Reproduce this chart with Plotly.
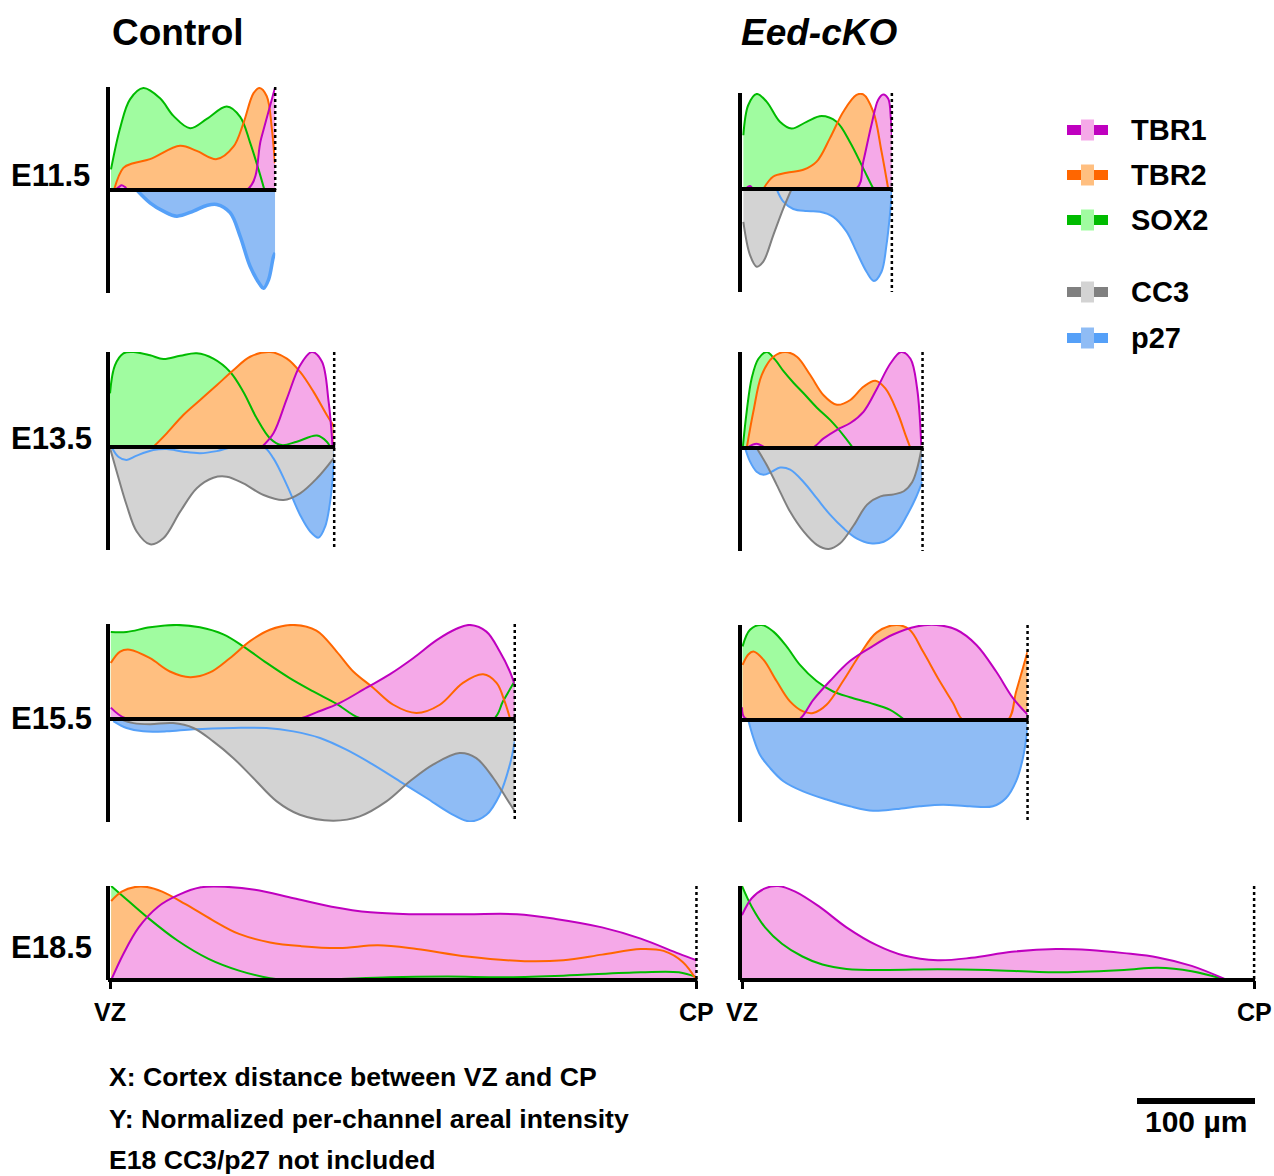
import plotly.graph_objects as go

W, H = 1274, 1176

# ---------------- DATA ----------------
# x: position along the cortex, % of the VZ -> CP distance
# y: normalized per-channel areal intensity (negative side: CC3 / p27)

# cortex thickness (µm) per age, Control and Eed-cKO
control_len_um = [140, 190, 343, 497]
cko_len_um = [127, 153, 242, 434]
ages = ["E11.5", "E13.5", "E15.5", "E18.5"]

# ---- Control E11.5
c11_sox2_x = [0.6, 6.1, 12.1, 20.2, 30.3, 38.4, 48.5, 58.6, 70.7, 78.8, 84.8, 89.9, 93.5]
c11_sox2_y = [0.20, 0.60, 0.88, 0.99, 0.89, 0.72, 0.60, 0.69, 0.81, 0.71, 0.46, 0.20, 0.0]
c11_tbr2_x = [2.4, 8.1, 14.1, 24.2, 42.4, 52.5, 64.6, 74.7, 80.8, 86.9, 90.5, 94.9, 98.0, 99.8]
c11_tbr2_y = [0.0, 0.215, 0.26, 0.30, 0.43, 0.38, 0.30, 0.42, 0.65, 0.94, 0.99, 0.91, 0.59, 0.26]
c11_tbr1_x = [3.0, 5.5, 7.0, 9.0, 11.0, 82.8, 91.5, 100.0]
c11_tbr1_y = [0.0, 0.03, 0.045, 0.03, 0.0, 0.0, 0.5, 1.0]
c11_p27_x = [16.2, 24.2, 32.3, 40.4, 50.5, 58.6, 64.6, 72.7, 78.8, 84.8, 90.9, 92.9, 96.0, 99.0, 100.0]
c11_p27_y = [0.0, -0.124, -0.205, -0.254, -0.205, -0.15, -0.14, -0.22, -0.45, -0.74, -0.92, -0.955, -0.87, -0.645, -0.61]

# ---- Eed-cKO E11.5
k11_sox2_x = [0.9, 4.2, 9.8, 16.4, 25.3, 33.1, 43.1, 53.1, 63.1, 72.0, 80.9, 87.1, 88.0]
k11_sox2_y = [0.56, 0.875, 0.99, 0.91, 0.70, 0.63, 0.70, 0.76, 0.70, 0.49, 0.215, 0.02, 0.0]
k11_tbr2_x = [14.2, 20.9, 29.8, 40.9, 49.8, 58.7, 67.6, 76.4, 80.9, 87.6, 93.1, 97.6]
k11_tbr2_y = [0.0, 0.13, 0.17, 0.20, 0.285, 0.53, 0.805, 0.98, 0.985, 0.805, 0.39, 0.0]
k11_tbr1_x = [2.5, 5.3, 8.0, 76.0, 80.9, 86.4, 90.9, 94.2, 97.6, 99.3, 100.0]
k11_tbr1_y = [0.0, 0.03, 0.0, 0.0, 0.285, 0.67, 0.93, 0.985, 0.94, 0.74, 0.56]
k11_cc3_x = [0.9, 5.3, 9.8, 14.2, 20.9, 27.6, 33.1]
k11_cc3_y = [-0.32, -0.64, -0.754, -0.705, -0.447, -0.188, 0.0]
k11_p27_x = [23.1, 27.6, 34.2, 43.1, 52.0, 60.9, 69.8, 76.4, 83.1, 88.0, 93.1, 96.4, 98.7, 100.0]
k11_p27_y = [0.0, -0.123, -0.194, -0.214, -0.22, -0.27, -0.414, -0.608, -0.803, -0.893, -0.803, -0.544, -0.252, -0.026]

# ---- Control E13.5
c13_sox2_x = [0.0, 2.2, 6.0, 10.4, 17.9, 23.8, 31.3, 38.7, 46.1, 53.6, 59.5, 65.5, 71.4, 76.6, 83.3, 92.3, 96.7, 98.2]
c13_sox2_y = [0.565, 0.86, 0.986, 1.0, 0.965, 0.926, 0.96, 0.986, 0.93, 0.79, 0.58, 0.30, 0.09, 0.02, 0.056, 0.12, 0.056, 0.0]
c13_tbr2_x = [19.3, 25.3, 32.7, 40.2, 47.6, 55.1, 62.5, 71.4, 78.9, 84.8, 90.8, 96.7, 100.0]
c13_tbr2_y = [0.0, 0.144, 0.337, 0.495, 0.65, 0.81, 0.95, 1.0, 0.93, 0.79, 0.58, 0.337, 0.214]
c13_tbr1_x = [67.7, 72.9, 78.9, 84.8, 90.0, 94.5, 97.5, 99.3]
c13_tbr1_y = [0.0, 0.144, 0.51, 0.86, 1.0, 0.9, 0.48, 0.0]
c13_cc3_x = [0.0, 3.0, 7.4, 11.9, 17.9, 23.8, 31.3, 38.7, 46.1, 52.1, 59.5, 68.5, 77.4, 84.8, 92.3, 99.7]
c13_cc3_y = [-0.01, -0.24, -0.563, -0.82, -0.945, -0.887, -0.628, -0.40, -0.298, -0.288, -0.353, -0.466, -0.515, -0.45, -0.304, -0.11]
c13_p27_x = [0.7, 3.7, 7.4, 11.9, 19.3, 25.3, 32.7, 40.2, 47.6, 55.1, 68.5, 72.9, 78.9, 84.8, 89.3, 93.0, 96.0, 98.2, 100.0]
c13_p27_y = [0.0, -0.094, -0.126, -0.084, -0.03, -0.02, -0.045, -0.06, -0.04, 0.0, 0.0, -0.11, -0.37, -0.66, -0.82, -0.88, -0.77, -0.53, -0.12]

# ---- Eed-cKO E13.5
k13_sox2_x = [0.4, 2.6, 5.4, 9.1, 13.7, 18.3, 23.0, 28.5, 34.1, 41.5, 48.9, 56.3, 61.5]
k13_sox2_y = [0.0, 0.38, 0.73, 0.93, 1.0, 0.92, 0.80, 0.68, 0.57, 0.42, 0.29, 0.13, 0.0]
k13_tbr2_x = [2.6, 6.3, 10.9, 17.4, 23.9, 30.4, 37.8, 45.2, 52.6, 60.0, 67.4, 73.9, 79.4, 85.9, 90.6, 93.3]
k13_tbr2_y = [0.0, 0.38, 0.76, 0.95, 1.0, 0.95, 0.76, 0.55, 0.45, 0.5, 0.64, 0.70, 0.62, 0.38, 0.135, 0.0]
k13_tbr1_x = [2.6, 8.1, 13.7, 26.7, 38.7, 45.2, 52.6, 60.0, 67.4, 74.8, 82.2, 88.1, 93.3, 97.0, 99.3]
k13_tbr1_y = [0.0, 0.045, 0.0, 0.0, 0.0, 0.1, 0.19, 0.26, 0.38, 0.62, 0.88, 1.0, 0.93, 0.62, 0.03]
k13_cc3_x = [8.1, 13.7, 19.3, 26.7, 34.1, 41.5, 48.0, 54.4, 61.9, 69.3, 76.7, 84.1, 89.6, 94.3, 97.0, 99.3]
k13_cc3_y = [0.0, -0.165, -0.36, -0.62, -0.81, -0.94, -0.98, -0.925, -0.75, -0.55, -0.47, -0.45, -0.42, -0.33, -0.2, -0.02]
k13_p27_x = [1.7, 4.4, 8.1, 11.9, 16.5, 21.1, 26.7, 34.1, 41.5, 48.9, 56.3, 63.7, 71.1, 78.5, 85.9, 91.5, 96.1, 99.8]
k13_p27_y = [0.0, -0.13, -0.23, -0.26, -0.23, -0.19, -0.21, -0.33, -0.49, -0.65, -0.78, -0.88, -0.925, -0.91, -0.81, -0.65, -0.49, -0.33]

# ---- Control E15.5
c15_sox2_x = [0.2, 4.1, 9.9, 16.5, 22.2, 28.0, 32.9, 38.7, 44.4, 50.2, 56.0, 61.7, 70.0, 80.0, 94.7, 97.1, 100.0]
c15_sox2_y = [0.916, 0.916, 0.965, 0.99, 0.965, 0.89, 0.765, 0.59, 0.43, 0.29, 0.16, 0.01, 0.0, 0.0, 0.0, 0.186, 0.40]
c15_tbr2_x = [0.2, 2.5, 4.9, 9.9, 14.8, 19.8, 24.7, 29.6, 34.6, 39.5, 45.3, 51.0, 56.0, 60.1, 65.0, 70.0, 75.7, 81.5, 87.2, 92.2, 95.5, 97.5, 98.8]
c15_tbr2_y = [0.59, 0.71, 0.73, 0.64, 0.50, 0.44, 0.49, 0.64, 0.82, 0.94, 0.99, 0.93, 0.71, 0.50, 0.33, 0.15, 0.063, 0.15, 0.38, 0.47, 0.38, 0.186, 0.01]
c15_tbr1_x = [0.2, 3.7, 10.0, 22.2, 46.5, 51.0, 56.8, 63.4, 69.1, 74.9, 80.7, 85.6, 88.9, 93.0, 96.3, 98.8, 100.0]
c15_tbr1_y = [0.12, 0.01, 0.0, 0.0, 0.0, 0.07, 0.17, 0.33, 0.47, 0.64, 0.83, 0.95, 0.99, 0.92, 0.71, 0.50, 0.36]
c15_cc3_x = [2.5, 5.8, 9.9, 15.6, 20.6, 25.5, 30.5, 35.4, 41.2, 46.9, 55.1, 61.7, 68.3, 74.1, 79.8, 86.4, 90.5, 94.7, 97.9, 100.0]
c15_cc3_y = [0.0, -0.04, -0.05, -0.04, -0.087, -0.217, -0.38, -0.573, -0.80, -0.93, -0.987, -0.945, -0.80, -0.605, -0.443, -0.33, -0.38, -0.573, -0.767, -0.896]
c15_p27_x = [0.8, 4.1, 8.2, 14.0, 20.6, 30.5, 38.7, 45.3, 51.9, 58.4, 65.0, 71.6, 78.2, 84.0, 88.9, 93.0, 96.3, 98.8, 100.0]
c15_p27_y = [-0.02, -0.087, -0.12, -0.12, -0.10, -0.087, -0.087, -0.12, -0.184, -0.298, -0.443, -0.605, -0.767, -0.913, -0.994, -0.93, -0.735, -0.443, -0.217]

# ---- Eed-cKO E15.5
k15_sox2_x = [0.2, 2.8, 6.9, 11.0, 15.6, 20.3, 26.1, 31.9, 37.8, 44.8, 51.7, 57.0]
k15_sox2_y = [0.775, 0.95, 1.0, 0.93, 0.775, 0.58, 0.41, 0.30, 0.24, 0.18, 0.11, 0.0]
k15_tbr2_x = [0.2, 2.2, 4.0, 7.5, 12.1, 16.8, 21.4, 24.9, 29.6, 35.4, 41.3, 47.1, 54.1, 58.7, 63.4, 69.2, 73.9, 77.4, 85.0, 93.1, 96.0, 98.4, 100.0]
k15_tbr2_y = [0.58, 0.69, 0.72, 0.635, 0.41, 0.196, 0.09, 0.074, 0.16, 0.41, 0.69, 0.92, 1.0, 0.95, 0.72, 0.41, 0.18, 0.0, 0.0, 0.0, 0.30, 0.55, 0.72]
k15_tbr1_x = [0.0, 1.0, 9.8, 19.7, 24.9, 30.8, 37.8, 44.8, 52.9, 61.1, 68.1, 75.1, 82.1, 89.0, 94.9, 100.0]
k15_tbr1_y = [0.133, 0.02, 0.0, 0.0, 0.21, 0.41, 0.62, 0.76, 0.90, 0.985, 1.0, 0.95, 0.79, 0.51, 0.23, 0.056]
k15_p27_x = [2.2, 4.0, 6.3, 9.8, 14.5, 21.4, 29.6, 37.8, 45.9, 54.1, 62.2, 70.4, 79.7, 87.9, 92.5, 96.0, 98.4, 100.0]
k15_p27_y = [0.0, -0.176, -0.34, -0.47, -0.60, -0.70, -0.78, -0.846, -0.89, -0.873, -0.846, -0.83, -0.846, -0.846, -0.765, -0.60, -0.37, -0.08]

# ---- Control E18.5
c18_sox2_x = [0.2, 2.3, 6.3, 11.5, 16.8, 22.0, 27.3, 32.6, 37.8, 47.7, 57.6, 67.4, 77.3, 90.5, 97.0, 100.0]
c18_sox2_y = [1.0, 0.886, 0.67, 0.42, 0.225, 0.10, 0.02, 0.0, 0.007, 0.03, 0.036, 0.03, 0.046, 0.082, 0.082, 0.03]
c18_tbr2_x = [0.2, 2.0, 4.3, 6.3, 8.9, 12.8, 17.4, 22.0, 27.3, 32.6, 39.1, 45.7, 52.3, 60.9, 70.7, 77.3, 83.9, 90.5, 94.4, 97.7, 100.0]
c18_tbr2_y = [0.84, 0.94, 0.99, 0.99, 0.94, 0.81, 0.64, 0.49, 0.40, 0.36, 0.34, 0.37, 0.33, 0.25, 0.20, 0.21, 0.27, 0.33, 0.31, 0.19, 0.0]
c18_tbr1_x = [0.2, 2.3, 4.9, 8.2, 11.5, 15.5, 20.1, 24.7, 31.3, 37.8, 44.4, 51.0, 60.9, 69.4, 76.0, 83.9, 90.5, 97.0, 100.0]
c18_tbr1_y = [0.0, 0.28, 0.56, 0.78, 0.90, 0.986, 0.99, 0.96, 0.87, 0.78, 0.72, 0.70, 0.70, 0.70, 0.65, 0.56, 0.44, 0.28, 0.21]

# ---- Eed-cKO E18.5
k18_sox2_x = [0.0, 1.9, 4.5, 7.8, 11.8, 15.7, 20.4, 28.3, 38.2, 48.1, 61.3, 74.6, 81.2, 87.8, 94.7]
k18_sox2_y = [1.0, 0.78, 0.56, 0.386, 0.25, 0.164, 0.118, 0.107, 0.114, 0.107, 0.082, 0.107, 0.13, 0.093, 0.0]
k18_tbr1_x = [0.0, 1.9, 4.5, 7.1, 10.4, 15.1, 20.4, 26.3, 31.6, 38.2, 44.8, 52.7, 61.3, 67.9, 74.6, 81.2, 87.8, 94.7]
k18_tbr1_y = [0.69, 0.87, 0.975, 1.0, 0.94, 0.78, 0.56, 0.37, 0.26, 0.21, 0.236, 0.30, 0.33, 0.32, 0.286, 0.24, 0.15, 0.0]

legend_names = ["TBR1", "TBR2", "SOX2", "CC3", "p27"]

# ---------------- STYLE ----------------
FONT = "Liberation Sans, Arial, Helvetica, sans-serif"
PX_PER_UM = 1.18
COLORS = {
    "TBR1": ("#bf00bf", "#f5a9e8"),
    "TBR2": ("#ff6600", "#ffbf80"),
    "SOX2": ("#00bb00", "#a0fca0"),
    "CC3": ("#808080", "#d3d3d3"),
    "p27": ("#55a0f8", "#8fbcf5"),
}

panels = [
    dict(x0=110, L=control_len_um[0], top=87, base=190, bottom=293, dot_full=False,
         pos=[("SOX2", c11_sox2_x, c11_sox2_y), ("TBR2", c11_tbr2_x, c11_tbr2_y), ("TBR1", c11_tbr1_x, c11_tbr1_y)],
         neg=[("p27", c11_p27_x, c11_p27_y)], lw={"p27": 3.5}),
    dict(x0=742, L=cko_len_um[0], top=93, base=189, bottom=292, dot_full=True,
         pos=[("SOX2", k11_sox2_x, k11_sox2_y), ("TBR2", k11_tbr2_x, k11_tbr2_y), ("TBR1", k11_tbr1_x, k11_tbr1_y)],
         neg=[("p27", k11_p27_x, k11_p27_y), ("CC3", k11_cc3_x, k11_cc3_y)], lw={}),
    dict(x0=110, L=control_len_um[1], top=352, base=447, bottom=550, dot_full=True,
         pos=[("SOX2", c13_sox2_x, c13_sox2_y), ("TBR2", c13_tbr2_x, c13_tbr2_y), ("TBR1", c13_tbr1_x, c13_tbr1_y)],
         neg=[("p27", c13_p27_x, c13_p27_y), ("CC3", c13_cc3_x, c13_cc3_y)], lw={}),
    dict(x0=742, L=cko_len_um[1], top=352, base=448, bottom=551, dot_full=True,
         pos=[("SOX2", k13_sox2_x, k13_sox2_y), ("TBR2", k13_tbr2_x, k13_tbr2_y), ("TBR1", k13_tbr1_x, k13_tbr1_y)],
         neg=[("p27", k13_p27_x, k13_p27_y), ("CC3", k13_cc3_x, k13_cc3_y)], lw={}),
    dict(x0=110, L=control_len_um[2], top=624, base=719, bottom=822, dot_full=True,
         pos=[("SOX2", c15_sox2_x, c15_sox2_y), ("TBR2", c15_tbr2_x, c15_tbr2_y), ("TBR1", c15_tbr1_x, c15_tbr1_y)],
         neg=[("p27", c15_p27_x, c15_p27_y), ("CC3", c15_cc3_x, c15_cc3_y)], lw={}),
    dict(x0=742, L=cko_len_um[2], top=625, base=720, bottom=822, dot_full=True,
         pos=[("SOX2", k15_sox2_x, k15_sox2_y), ("TBR2", k15_tbr2_x, k15_tbr2_y), ("TBR1", k15_tbr1_x, k15_tbr1_y)],
         neg=[("p27", k15_p27_x, k15_p27_y)], lw={}),
    dict(x0=110, L=control_len_um[3], top=886, base=980, bottom=None, dot_full=True,
         pos=[("SOX2", c18_sox2_x, c18_sox2_y), ("TBR2", c18_tbr2_x, c18_tbr2_y), ("TBR1", c18_tbr1_x, c18_tbr1_y)],
         neg=[], lw={}),
    dict(x0=742, L=cko_len_um[3], top=886, base=980, bottom=None, dot_full=True,
         pos=[("SOX2", k18_sox2_x, k18_sox2_y), ("TBR1", k18_tbr1_x, k18_tbr1_y)],
         neg=[], lw={}),
]


def px_x(v):
    return v / W


def px_y(v):
    return 1 - v / H


def akey(prefix, n):
    return f"{prefix}axis" if n == 1 else f"{prefix}axis{n}"


def aref(prefix, n):
    return prefix if n == 1 else f"{prefix}{n}"


fig = go.Figure()
layout_axes = {}
shapes = []
annotations = []
ycount = 0

for i, p in enumerate(panels):
    xn = i + 1
    x1 = p["x0"] + p["L"] * PX_PER_UM
    ycount += 1
    ypos = ycount
    yneg = None
    if p["bottom"] is not None:
        ycount += 1
        yneg = ycount
    bottom_row = p["bottom"] is None

    layout_axes[akey("x", xn)] = dict(
        domain=[px_x(p["x0"]), px_x(x1)], range=[0, 100], anchor=aref("y", ypos),
        showline=False, showgrid=False, zeroline=False,
        tickvals=[0, 100], ticks="outside" if bottom_row else "", ticklen=8, tickwidth=3,
        tickcolor="black", showticklabels=False, fixedrange=True)
    layout_axes[akey("y", ypos)] = dict(
        domain=[px_y(p["base"]), px_y(p["top"])], range=[0, 1], anchor=aref("x", xn),
        showline=True, linewidth=4, linecolor="black", showgrid=False, zeroline=False,
        showticklabels=False, ticks="", fixedrange=True)
    if yneg is not None:
        layout_axes[akey("y", yneg)] = dict(
            domain=[px_y(p["bottom"]), px_y(p["base"])], range=[-1, 0], anchor=aref("x", xn),
            showline=True, linewidth=4, linecolor="black", showgrid=False, zeroline=False,
            showticklabels=False, ticks="", fixedrange=True)

    groups = [(p["pos"], ypos)]
    if yneg is not None:
        groups.append((p["neg"], yneg))
    for series, yax in groups:
        # fills first (in stacking order), then all outlines on top
        for name, xs, ys in series:
            fig.add_trace(go.Scatter(
                x=xs, y=ys, mode="lines", fill="tozeroy", fillcolor=COLORS[name][1],
                line=dict(width=0, shape="spline", color=COLORS[name][1]),
                xaxis=aref("x", xn), yaxis=aref("y", yax), showlegend=False, hoverinfo="skip"))
        for name, xs, ys in series:
            fig.add_trace(go.Scatter(
                x=xs, y=ys, mode="lines",
                line=dict(width=p["lw"].get(name, 2), shape="spline", color=COLORS[name][0]),
                xaxis=aref("x", xn), yaxis=aref("y", yax), showlegend=False, hoverinfo="skip"))

    # baseline (zero line of each panel), drawn above all fills
    shapes.append(dict(type="line", xref="paper", yref="paper",
                       x0=px_x(p["x0"] - 2), x1=px_x(x1 + 1), y0=px_y(p["base"]), y1=px_y(p["base"]),
                       line=dict(color="black", width=4), layer="above"))
    # dotted CP boundary
    ybot = p["bottom"] if (p["bottom"] is not None and p["dot_full"]) else p["base"]
    shapes.append(dict(type="line", xref="paper", yref="paper",
                       x0=px_x(x1), x1=px_x(x1), y0=px_y(p["top"]), y1=px_y(ybot),
                       line=dict(color="black", width=2.5, dash="dot"), layer="above"))
    if bottom_row:
        for lab, xp in (("VZ", p["x0"]), ("CP", x1)):
            annotations.append(dict(text=f"<b>{lab}</b>", x=px_x(xp), y=px_y(1012), xref="paper", yref="paper",
                                    xanchor="center", yanchor="middle", showarrow=False,
                                    font=dict(family=FONT, size=25, color="black")))

# titles
annotations.append(dict(text="<b>Control</b>", x=px_x(110), y=px_y(32), xref="paper", yref="paper",
                        xanchor="left", yanchor="middle", showarrow=False,
                        font=dict(family=FONT, size=37, color="black")))
annotations.append(dict(text="<b><i>Eed-cKO</i></b>", x=px_x(739), y=px_y(32), xref="paper", yref="paper",
                        xanchor="left", yanchor="middle", showarrow=False,
                        font=dict(family=FONT, size=37, color="black")))

# row labels
for age, yc in zip(ages, [176, 438, 718, 947]):
    annotations.append(dict(text=f"<b>{age}</b>", x=px_x(9), y=px_y(yc), xref="paper", yref="paper",
                            xanchor="left", yanchor="middle", showarrow=False,
                            font=dict(family=FONT, size=31, color="black")))

# legend
for name, yc in zip(legend_names, [130, 175, 220, 292, 338]):
    line_c, fill_c = COLORS[name]
    shapes.append(dict(type="line", xref="paper", yref="paper", x0=px_x(1067), x1=px_x(1108),
                       y0=px_y(yc), y1=px_y(yc), line=dict(color=line_c, width=10)))
    shapes.append(dict(type="rect", xref="paper", yref="paper", x0=px_x(1081), x1=px_x(1094),
                       y0=px_y(yc - 10.5), y1=px_y(yc + 10.5), fillcolor=fill_c, line=dict(width=0)))
    annotations.append(dict(text=f"<b>{name}</b>", x=px_x(1129), y=px_y(yc), xref="paper", yref="paper",
                            xanchor="left", yanchor="middle", showarrow=False,
                            font=dict(family=FONT, size=29, color="black")))

# footnotes
for txt, yc in (("X: Cortex distance between VZ and CP", 1077),
                ("Y: Normalized per-channel areal intensity", 1119),
                ("E18 CC3/p27 not included", 1160)):
    annotations.append(dict(text=f"<b>{txt}</b>", x=px_x(107), y=px_y(yc), xref="paper", yref="paper",
                            xanchor="left", yanchor="middle", showarrow=False,
                            font=dict(family=FONT, size=26.6, color="black")))

# scale bar: 100 µm
sb_x0 = 1137
sb_x1 = sb_x0 + 100 * PX_PER_UM
shapes.append(dict(type="line", xref="paper", yref="paper", x0=px_x(sb_x0), x1=px_x(sb_x1),
                   y0=px_y(1101), y1=px_y(1101), line=dict(color="black", width=6)))
annotations.append(dict(text="<b>100 µm</b>", x=px_x((sb_x0 + sb_x1) / 2), y=px_y(1121), xref="paper", yref="paper",
                        xanchor="center", yanchor="middle", showarrow=False,
                        font=dict(family=FONT, size=30, color="black")))

fig.update_layout(
    width=W, height=H, margin=dict(l=0, r=0, t=0, b=0),
    paper_bgcolor="white", plot_bgcolor="rgba(0,0,0,0)",
    showlegend=False, shapes=shapes, annotations=annotations,
    **layout_axes)

# the page itself gets no body margin, so the figure fills the window exactly
fig.write_html("out.html",
               config={"displayModeBar": False, "staticPlot": True},
               post_script="document.body.style.margin='0';document.body.style.overflow='hidden';")
